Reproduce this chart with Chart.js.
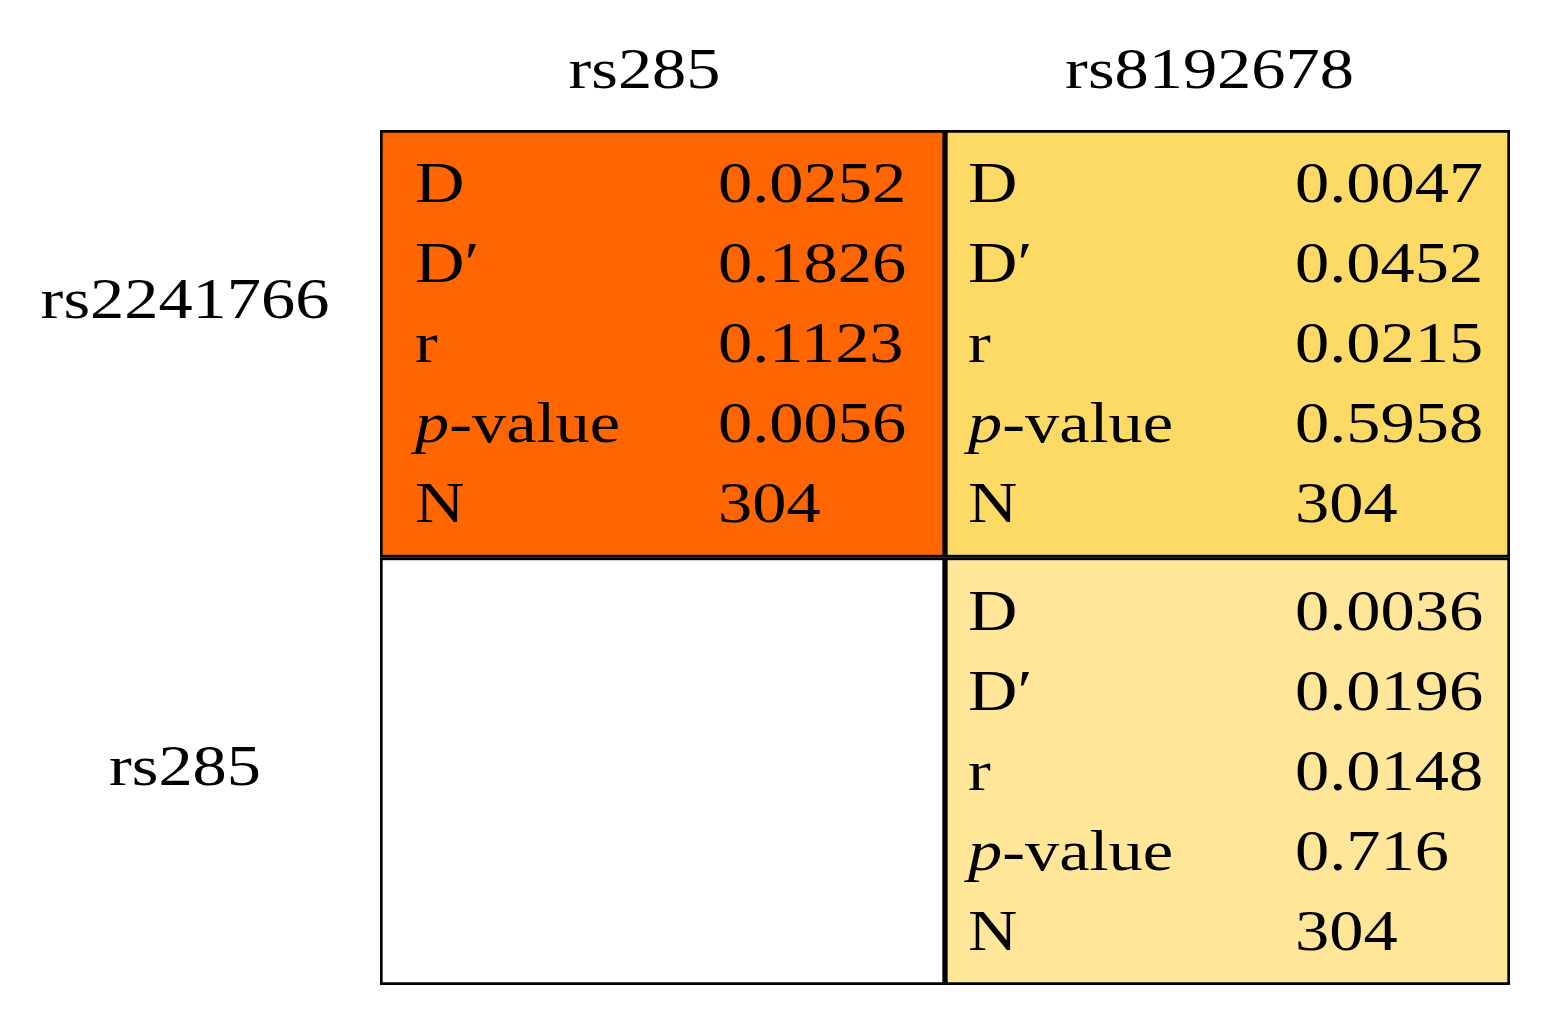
<!DOCTYPE html>
<html><head><meta charset="utf-8">
<script src="https://cdn.jsdelivr.net/npm/chart.js@4"></script>
<style>html,body{margin:0;background:#fff}#c{display:block}</style>
</head><body>
<canvas id="c" width="1557" height="1036"></canvas>
<script>
const colLabels = ['rs285', 'rs8192678'];
const rowLabels = ['rs2241766', 'rs285'];
const statNames = ['D', 'D′', 'r', 'p-value', 'N'];
// cells: [col, row(0=top)]
const cellCols = [0, 1, 0, 1];
const cellRows = [0, 0, 1, 1];
const cellValues = [
  ['0.0252', '0.1826', '0.1123', '0.0056', '304'],
  ['0.0047', '0.0452', '0.0215', '0.5958', '304'],
  null,
  ['0.0036', '0.0196', '0.0148', '0.716', '304']
];
const cellColors = ['#FF6600', '#FDD966', '#FFFFFF', '#FFE699'];
const FONT = '"Liberation Serif", "DejaVu Serif", serif';
const SX = 1.2;

function txt(ctx, s, x, y, align, italic) {
  ctx.save();
  ctx.font = (italic ? 'italic ' : '') + '57px ' + FONT;
  const w = ctx.measureText(s).width * SX;
  let x0 = x;
  if (align === 'center') x0 = x - w / 2;
  ctx.translate(x0, y);
  ctx.scale(SX, 1);
  ctx.textAlign = 'left';
  ctx.fillText(s, 0, 0);
  ctx.restore();
  return w;
}

const textPlugin = {
  id: 'txt',
  afterDatasetsDraw(chart) {
    const ctx = chart.ctx, a = chart.chartArea;
    const cw = (a.right - a.left) / 2, ch = (a.bottom - a.top) / 2;
    ctx.save();
    ctx.fillStyle = '#000';
    ctx.textBaseline = 'alphabetic';
    colLabels.forEach((l, i) => txt(ctx, l, a.left + cw * (i + 0.5) - 18, 88, 'center'));
    const rowY = [318, 785];
    rowLabels.forEach((l, i) => txt(ctx, l, 185, rowY[i], 'center'));
    cellValues.forEach((vals, k) => {
      if (!vals) return;
      const x0 = a.left + cw * cellCols[k], y0 = a.top + ch * cellRows[k];
      const lx = x0 + (cellCols[k] === 0 ? 35 : 23), vx = x0 + (cellCols[k] === 0 ? 338 : 350);
      statNames.forEach((s, j) => {
        const y = y0 + 72 + 80 * j;
        if (s === 'p-value') {
          const w = txt(ctx, 'p', lx, y, 'left', true);
          txt(ctx, '-value', lx + w, y, 'left');
        } else {
          txt(ctx, s, lx, y, 'left');
        }
        txt(ctx, vals[j], vx, y, 'left');
      });
    });
    ctx.restore();
  }
};

const data = cellCols.map((c, k) => ({ x: colLabels[c], y: cellRows[k] === 0 ? [1, 2] : [0, 1] }));

new Chart(document.getElementById('c'), {
  type: 'bar',
  data: {
    labels: colLabels,
    datasets: [{
      data: data,
      backgroundColor: cellColors,
      borderColor: '#000',
      borderWidth: 3,
      borderSkipped: false,
      grouped: false,
      barPercentage: 1,
      categoryPercentage: 1
    }]
  },
  options: {
    responsive: false,
    animation: false,
    layout: { padding: { left: 380, right: 47, top: 130, bottom: 51 } },
    plugins: { legend: { display: false }, tooltip: { enabled: false } },
    scales: {
      x: { display: false },
      y: { display: false, min: 0, max: 2 }
    }
  },
  plugins: [textPlugin]
});
</script>
</body></html>
